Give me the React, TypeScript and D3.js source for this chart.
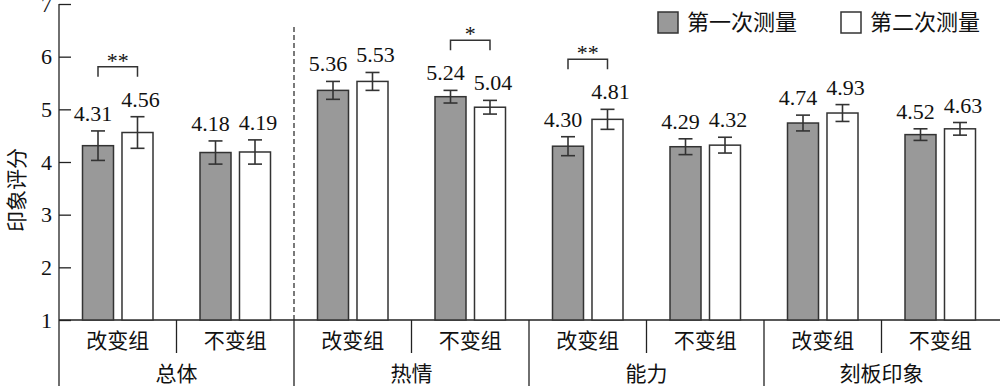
import React, { useEffect, useRef } from "react";
import * as d3 from "d3";

const groups = ["总体", "热情", "能力", "刻板印象"];
const subgroups = ["改变组", "不变组"];
const seriesNames = ["第一次测量", "第二次测量"];
const firstMeans = [4.31, 4.18, 5.36, 5.24, 4.3, 4.29, 4.74, 4.52];
const secondMeans = [4.56, 4.19, 5.53, 5.04, 4.81, 4.32, 4.93, 4.63];
const firstSE = [0.28, 0.22, 0.17, 0.12, 0.18, 0.15, 0.15, 0.11];
const secondSE = [0.3, 0.23, 0.17, 0.13, 0.19, 0.15, 0.16, 0.12];
const sigMarks = ["**", "", "", "*", "**", "", "", ""];
const yTicks = [1, 2, 3, 4, 5, 6, 7];

const NUM_FONT = "'Liberation Serif', 'Times New Roman', serif";
const CJK_FONT = "'Noto Sans CJK SC', sans-serif";

const App = () => {
  const svgRef = useRef<SVGSVGElement>(null);

  useEffect(() => {
    const width = 1000;
    const height = 386;
    const margin = { top: 4, left: 59, right: 1, bottom: 66 };
    const ink = "#222";

    const svg = d3.select(svgRef.current).attr("width", width).attr("height", height);
    svg.selectAll("*").remove();

    const y = d3.scaleLinear().domain([1, 7]).range([height - margin.bottom, margin.top]);
    const x0 = d3.scaleBand().domain(groups).range([margin.left, width - margin.right]);
    const x1 = d3.scaleBand().domain(subgroups).range([0, x0.bandwidth()]);
    const x2 = d3
      .scaleBand()
      .domain(["0", "1"])
      .range([0, x1.bandwidth()])
      .paddingInner(0.215)
      .paddingOuter(0.595);

    const rows = groups.flatMap((g, gi) =>
      subgroups.map((s, si) => {
        const i = gi * 2 + si;
        return {
          g, s, i,
          x: (x0(g) as number) + (x1(s) as number),
          vals: [
            { k: "0", m: firstMeans[i], se: firstSE[i] },
            { k: "1", m: secondMeans[i], se: secondSE[i] },
          ],
          sig: sigMarks[i],
        };
      })
    );

    const base = y(1);

    // y axis
    const yAxis = svg
      .append("g")
      .attr("transform", `translate(${margin.left},0)`)
      .call(d3.axisLeft(y).tickValues(yTicks).tickFormat(d3.format("d")).tickSize(-12).tickPadding(7));
    yAxis.select(".domain").remove();
    yAxis.selectAll("line").attr("stroke", ink).attr("stroke-width", 1.3);
    yAxis
      .selectAll("text")
      .attr("font-family", NUM_FONT)
      .attr("font-size", 22)
      .attr("fill", "#111");
    svg.append("line")
      .attr("x1", margin.left).attr("x2", margin.left)
      .attr("y1", margin.top).attr("y2", height)
      .attr("stroke", ink).attr("stroke-width", 1.3);

    // x axis line
    svg.append("line")
      .attr("x1", margin.left).attr("x2", width)
      .attr("y1", base).attr("y2", base)
      .attr("stroke", ink).attr("stroke-width", 1.3);

    // subgroup dividers
    groups.forEach((g) => {
      svg.append("line")
        .attr("x1", (x0(g) as number) + x1.bandwidth()).attr("x2", (x0(g) as number) + x1.bandwidth())
        .attr("y1", base).attr("y2", base + 33)
        .attr("stroke", ink).attr("stroke-width", 1.3);
    });
    // group dividers
    groups.slice(1).forEach((g) => {
      const gx = x0(g) as number;
      svg.append("line")
        .attr("x1", gx).attr("x2", gx)
        .attr("y1", base).attr("y2", height)
        .attr("stroke", ink).attr("stroke-width", 1.3);
    });
    // dashed separator after 总体
    const dx = x0(groups[1]) as number;
    svg.append("line")
      .attr("x1", dx).attr("x2", dx)
      .attr("y1", 27).attr("y2", base)
      .attr("stroke", ink).attr("stroke-width", 1.2)
      .attr("stroke-dasharray", "5,3");

    // category labels
    svg.selectAll(".sublabel")
      .data(rows)
      .join("text")
      .attr("class", "sublabel")
      .attr("x", (d) => d.x + x1.bandwidth() / 2)
      .attr("y", base + 28)
      .attr("text-anchor", "middle")
      .attr("font-family", CJK_FONT)
      .attr("font-size", 21)
      .attr("fill", "#111")
      .text((d) => d.s);

    svg.selectAll(".grouplabel")
      .data(groups)
      .join("text")
      .attr("class", "grouplabel")
      .attr("x", (d) => (x0(d) as number) + x0.bandwidth() / 2)
      .attr("y", base + 61)
      .attr("text-anchor", "middle")
      .attr("font-family", CJK_FONT)
      .attr("font-size", 21)
      .attr("fill", "#111")
      .text((d) => d);

    // bars
    const cells = svg.selectAll(".cell")
      .data(rows)
      .join("g")
      .attr("class", "cell")
      .attr("transform", (d) => `translate(${d.x},0)`);

    cells.selectAll("rect")
      .data((d) => d.vals)
      .join("rect")
      .attr("x", (v) => x2(v.k) as number)
      .attr("y", (v) => y(v.m))
      .attr("width", x2.bandwidth())
      .attr("height", (v) => base - y(v.m))
      .attr("fill", (v) => (v.k === "0" ? "#999999" : "#ffffff"))
      .attr("stroke", "#333")
      .attr("stroke-width", 1.5);

    // error bars
    const cap = 7;
    const err = cells.selectAll(".err")
      .data((d) => d.vals)
      .join("g")
      .attr("class", "err")
      .attr("stroke", "#333")
      .attr("stroke-width", 1.6);
    err.append("line")
      .attr("x1", (v) => (x2(v.k) as number) + x2.bandwidth() / 2)
      .attr("x2", (v) => (x2(v.k) as number) + x2.bandwidth() / 2)
      .attr("y1", (v) => y(v.m + v.se))
      .attr("y2", (v) => y(v.m - v.se));
    [1, -1].forEach((sgn) => {
      err.append("line")
        .attr("x1", (v) => (x2(v.k) as number) + x2.bandwidth() / 2 - cap)
        .attr("x2", (v) => (x2(v.k) as number) + x2.bandwidth() / 2 + cap)
        .attr("y1", (v) => y(v.m + sgn * v.se))
        .attr("y2", (v) => y(v.m + sgn * v.se));
    });

    // value labels
    const fmt = d3.format(".2f");
    cells.selectAll(".val")
      .data((d) => d.vals)
      .join("text")
      .attr("class", "val")
      .attr("x", (v) => (x2(v.k) as number) + x2.bandwidth() / 2 + (v.k === "0" ? -5 : 3))
      .attr("y", (v) => y(v.m + v.se) - 10)
      .attr("text-anchor", "middle")
      .attr("font-family", NUM_FONT)
      .attr("font-size", 22)
      .attr("fill", "#111")
      .text((v) => fmt(v.m));

    // significance brackets
    const sigCells = cells.filter((d) => d.sig !== "");
    const bx = (k: string) => (x2(k) as number) + x2.bandwidth() / 2;
    const by = (d: any) => y(d3.max(d.vals, (v: any) => v.m + v.se) as number) - 50;
    sigCells.append("path")
      .attr("d", (d) => `M${bx("0")},${by(d) + 10}V${by(d)}H${bx("1")}V${by(d) + 10}`)
      .attr("fill", "none")
      .attr("stroke", "#333")
      .attr("stroke-width", 1.5);
    sigCells.append("text")
      .attr("x", (bx("0") + bx("1")) / 2)
      .attr("y", (d) => by(d) + 1)
      .attr("text-anchor", "middle")
      .attr("font-family", NUM_FONT)
      .attr("font-size", 22)
      .attr("fill", "#111")
      .text((d) => d.sig);

    // legend
    const legendX = [658, 841];
    const legend = svg.selectAll(".legend")
      .data(seriesNames)
      .join("g")
      .attr("class", "legend")
      .attr("transform", (_d, i) => `translate(${legendX[i]},12)`);
    legend.append("rect")
      .attr("width", 20).attr("height", 21)
      .attr("fill", (_d, i) => (i === 0 ? "#999999" : "#ffffff"))
      .attr("stroke", "#333").attr("stroke-width", 1.5);
    legend.append("text")
      .attr("x", 29).attr("y", 18)
      .attr("font-family", CJK_FONT)
      .attr("font-size", 22)
      .attr("fill", "#111")
      .text((d) => d);

    // y label
    svg.append("text")
      .attr("transform", "translate(15,190) rotate(-90)")
      .attr("text-anchor", "middle")
      .attr("dominant-baseline", "central")
      .attr("font-family", CJK_FONT)
      .attr("font-size", 21)
      .attr("fill", "#111")
      .text("印象评分");
  }, []);

  return <svg ref={svgRef} style={{ position: "absolute", left: 0, top: 0, display: "block", background: "#fff" }} />;
};

export default App;
